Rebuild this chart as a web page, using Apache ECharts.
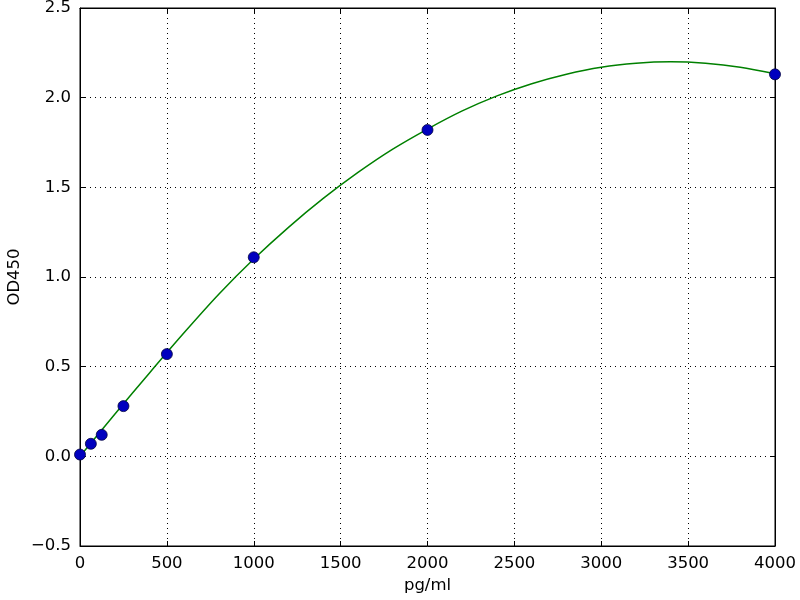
<!DOCTYPE html>
<html><head><meta charset="utf-8">
<script src="https://cdn.jsdelivr.net/npm/echarts@6/dist/echarts.min.js"></script>
<style>html,body{margin:0;padding:0;background:#fff}#c{width:800px;height:600px}</style>
</head><body><div id="c"></div>
<script>
const conc = [0, 62.5, 125, 250, 500, 1000, 2000, 4000];
const od = [0.01, 0.07, 0.12, 0.28, 0.57, 1.11, 1.82, 2.13];
const curveX = [0, 200, 400, 600, 800, 1000, 1200, 1400, 1600, 1800, 2000, 2200, 2400, 2600, 2800, 3000, 3200, 3400, 3600, 3800, 4000];
const curveY = [0.00, 0.235, 0.465, 0.69, 0.905, 1.10, 1.277, 1.438, 1.583, 1.713, 1.825, 1.926, 2.010, 2.078, 2.131, 2.170, 2.192, 2.200, 2.192, 2.170, 2.133];

const font = 'DejaVu Sans';
const fs = 16.5;
const fmtNum = v => String(v).replace('-', '\u2212');
const chart = echarts.init(document.getElementById('c'), null, {renderer: 'canvas'});
const baseAxis = {
  axisLine: {show: true, onZero: false, lineStyle: {color: '#000', width: 1}},
  axisTick: {show: true, inside: true, length: 5, lineStyle: {color: '#000'}},
  splitLine: {show: false}
};
chart.setOption({
  animation: false,
  grid: {left: 80, right: 25, top: 8, bottom: 54, show: true, borderColor: '#000', borderWidth: 1,
         containLabel: false, outerBoundsMode: 'none'},
  xAxis: [
    Object.assign({}, baseAxis, {
      type: 'value', min: 0, max: 4000, interval: 500, position: 'bottom',
      name: 'pg/ml', nameLocation: 'middle', nameGap: 31, nameMoveOverlap: false,
      nameTextStyle: {fontFamily: font, fontSize: fs, color: '#000'},
      axisLabel: {fontFamily: font, fontSize: fs, color: '#000', margin: 9, formatter: fmtNum},
      splitLine: {show: true, lineStyle: {color: '#000', type: [1, 4], width: 1}}
    }),
    Object.assign({}, baseAxis, {
      type: 'value', min: 0, max: 4000, interval: 500, position: 'top',
      axisLabel: {show: false}
    })
  ],
  yAxis: [
    Object.assign({}, baseAxis, {
      type: 'value', min: -0.5, max: 2.5, interval: 0.5, position: 'left',
      name: 'OD450', nameLocation: 'middle', nameGap: 57, nameMoveOverlap: false,
      nameTextStyle: {fontFamily: font, fontSize: fs, color: '#000'},
      axisLabel: {fontFamily: font, fontSize: fs, color: '#000', margin: 9,
        formatter: v => fmtNum(v.toFixed(1))},
      splitLine: {show: true, lineStyle: {color: '#000', type: [1, 4], width: 1}}
    }),
    Object.assign({}, baseAxis, {
      type: 'value', min: -0.5, max: 2.5, interval: 0.5, position: 'right',
      axisLabel: {show: false}
    })
  ],
  series: [
    {
      type: 'line', xAxisIndex: 0, yAxisIndex: 0,
      data: curveX.map((x, i) => [x, curveY[i]]),
      smooth: 0.3, showSymbol: false, symbol: 'none',
      lineStyle: {color: '#008000', width: 1.5}, z: 2
    },
    {
      type: 'scatter', xAxisIndex: 0, yAxisIndex: 0,
      data: conc.map((x, i) => [x, od[i]]),
      symbol: 'circle', symbolSize: 11,
      itemStyle: {color: '#0000bf', borderColor: '#000040', borderWidth: 0.8, opacity: 1},
      clip: true, z: 3
    }
  ]
});
</script></body></html>
